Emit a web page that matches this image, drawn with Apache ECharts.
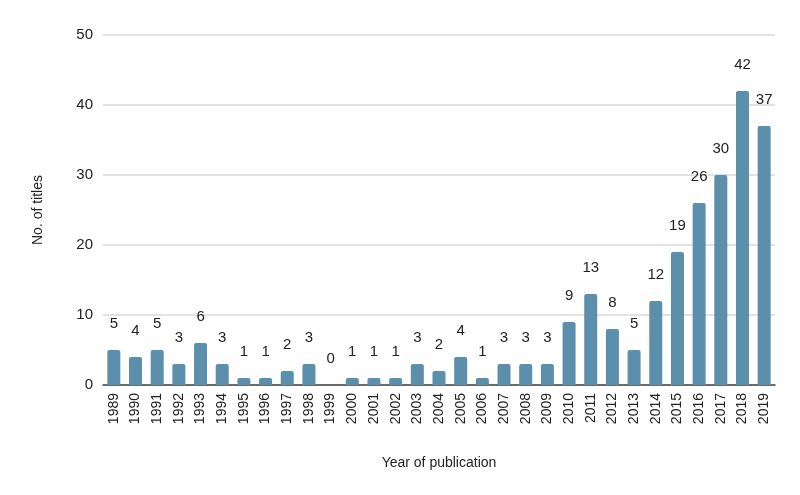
<!DOCTYPE html>
<html><head><meta charset="utf-8">
<script src="https://cdn.jsdelivr.net/npm/echarts@6/dist/echarts.min.js"></script>
<style>html,body{margin:0;padding:0;background:#fff}#c{width:800px;height:495px}</style>
</head><body><div id="c"></div>
<script>
const years = ['1989','1990','1991','1992','1993','1994','1995','1996','1997','1998','1999','2000','2001','2002','2003','2004','2005','2006','2007','2008','2009','2010','2011','2012','2013','2014','2015','2016','2017','2018','2019'];
const titles = [5,4,5,3,6,3,1,1,2,3,0,1,1,1,3,2,4,1,3,3,3,9,13,8,5,12,19,26,30,42,37];
const yTicks = {min:0, max:50, interval:10};

const chart = echarts.init(document.getElementById('c'), null, {renderer:'canvas'});
chart.setOption({
  animation:false,
  textStyle:{fontFamily:'Liberation Sans, Arial, sans-serif'},
  grid:{left:103, right:25, top:35, bottom:110},
  xAxis:{
    type:'category', data:years,
    name:'Year of publication', nameLocation:'middle', nameGap:71,
    nameTextStyle:{fontSize:14, color:'#222'},
    axisLine:{lineStyle:{color:'#444', width:1.5}},
    axisTick:{show:false},
    axisLabel:{rotate:90, fontSize:14, color:'#222', margin:8, interval:0}
  },
  yAxis:{
    type:'value', min:yTicks.min, max:yTicks.max, interval:yTicks.interval,
    name:'No. of titles', nameLocation:'middle', nameGap:58,
    nameTextStyle:{fontSize:14, color:'#222'},
    axisLine:{show:false}, axisTick:{show:false},
    axisLabel:{fontSize:15, color:'#222', margin:10},
    splitLine:{lineStyle:{color:'#d9d9d9', width:1.5}}
  },
  series:[{
    type:'bar', data:titles, barWidth:'60%',
    itemStyle:{color:'#5b8fab', borderRadius:[2,2,0,0]},
    label:{show:true, position:'top', distance:19, fontSize:15, color:'#222'}
  }]
});
</script></body></html>
